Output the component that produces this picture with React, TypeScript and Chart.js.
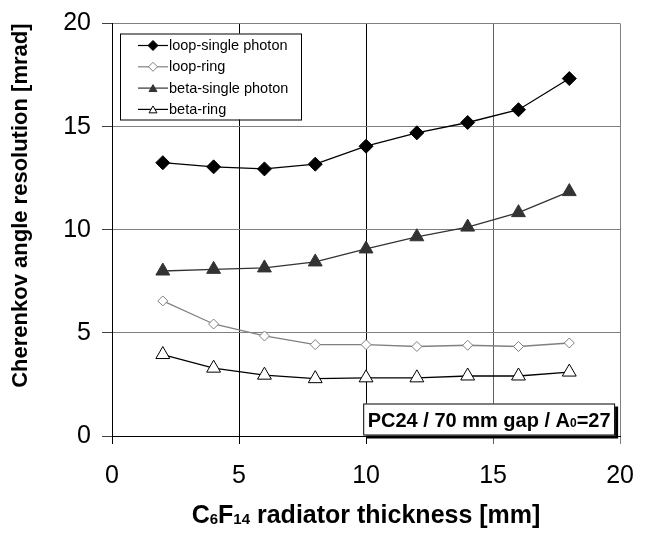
import React, { useEffect, useRef } from "react";
import { Chart, registerables } from "chart.js";

Chart.register(...registerables);

// ---- data ----
const thickness = [2, 4, 6, 8, 10, 12, 14, 16, 18];
const loopSingle = [13.25, 13.05, 12.95, 13.18, 14.05, 14.7, 15.2, 15.82, 17.33];
const loopRing = [6.55, 5.43, 4.85, 4.43, 4.43, 4.34, 4.4, 4.34, 4.51];
const betaSingle = [8.0, 8.08, 8.15, 8.44, 9.07, 9.66, 10.13, 10.83, 11.85];
const betaRing = [3.95, 3.29, 2.95, 2.78, 2.82, 2.82, 2.91, 2.91, 3.1];
const seriesNames = ["loop-single photon", "loop-ring", "beta-single photon", "beta-ring"];
const seriesValues = [loopSingle, loopRing, betaSingle, betaRing];
const axisMin = 0;
const axisMax = 20;
const axisStep = 5;
const yTitle = "Cherenkov angle resolution [mrad]";
const xTitleParts: [string, boolean][] = [
  ["C", false],
  ["6", true],
  ["F", false],
  ["14", true],
  [" radiator thickness [mm]", false],
];
const noteParts: [string, boolean][] = [
  ["PC24 / 70 mm gap / A", false],
  ["0", true],
  ["=27", false],
];

// ---- styles ----
const FONT = "'Liberation Sans', Arial, Helvetica, sans-serif";
const seriesStyles = [
  { line: "#000000", fill: "#000000", stroke: "#000000", shape: "rectRot", r: 7, lr: 5 },
  { line: "#808080", fill: "#ffffff", stroke: "#808080", shape: "rectRot", r: 5, lr: 4.5 },
  { line: "#333333", fill: "#333333", stroke: "#333333", shape: "triangle", r: 8, lr: 4.6 },
  { line: "#000000", fill: "#ffffff", stroke: "#000000", shape: "triangle", r: 8, lr: 4.6 },
];

function drawMarker(ctx: CanvasRenderingContext2D, shape: string, x: number, y: number, r: number, fill: string, stroke: string) {
  ctx.beginPath();
  if (shape === "rectRot") {
    ctx.moveTo(x - r, y);
    ctx.lineTo(x, y - r);
    ctx.lineTo(x + r, y);
    ctx.lineTo(x, y + r);
  } else {
    const cy = y + r / 4;
    ctx.moveTo(x, cy - r);
    ctx.lineTo(x + r * 0.866, cy + r / 2);
    ctx.lineTo(x - r * 0.866, cy + r / 2);
  }
  ctx.closePath();
  ctx.fillStyle = fill;
  ctx.fill();
  ctx.lineWidth = 1;
  ctx.strokeStyle = stroke;
  ctx.stroke();
}

function partsWidth(ctx: CanvasRenderingContext2D, parts: [string, boolean][], big: string, small: string) {
  let w = 0;
  for (const [t, sub] of parts) {
    ctx.font = sub ? small : big;
    w += ctx.measureText(t).width;
  }
  return w;
}

function drawParts(ctx: CanvasRenderingContext2D, parts: [string, boolean][], x: number, y: number, big: string, small: string, subDrop: number) {
  let cx = x;
  for (const [t, sub] of parts) {
    ctx.font = sub ? small : big;
    ctx.fillText(t, cx, sub ? y + subDrop : y);
    cx += ctx.measureText(t).width;
  }
}

const boxLegendPlugin = {
  id: "boxLegend",
  afterDatasetsDraw(chart: any) {
    const { ctx, chartArea } = chart;
    const x0 = chartArea.left + 8;
    const y0 = chartArea.top + 10;
    const w = 181;
    const h = 86;
    ctx.save();
    ctx.fillStyle = "#ffffff";
    ctx.fillRect(x0, y0, w, h);
    ctx.strokeStyle = "#000000";
    ctx.lineWidth = 1;
    ctx.strokeRect(x0 + 0.5, y0 + 0.5, w, h);
    ctx.font = `14.5px ${FONT}`;
    ctx.textBaseline = "middle";
    ctx.textAlign = "left";
    seriesNames.forEach((name, i) => {
      const st = seriesStyles[i];
      const cy = y0 + 12 + i * 21.3;
      ctx.beginPath();
      ctx.moveTo(x0 + 18, cy);
      ctx.lineTo(x0 + 48, cy);
      ctx.strokeStyle = st.line;
      ctx.lineWidth = 1.2;
      ctx.stroke();
      drawMarker(ctx, st.shape, x0 + 33, cy, st.lr, st.fill, st.stroke);
      ctx.fillStyle = "#000000";
      ctx.fillText(name, x0 + 49, cy + 0.5);
    });
    ctx.restore();
  },
};

const notePlugin = {
  id: "noteBox",
  afterDatasetsDraw(chart: any) {
    const { ctx, chartArea } = chart;
    const big = `bold 20px ${FONT}`;
    const small = `bold 12px ${FONT}`;
    ctx.save();
    const tw = partsWidth(ctx, noteParts, big, small);
    const right = chartArea.right - 5;
    const w = tw + 9;
    const left = right - w;
    const top = chartArea.top + 380;
    const h = 32;
    ctx.fillStyle = "#000000";
    ctx.fillRect(left + 3, top + 3, w, h);
    ctx.fillStyle = "#ffffff";
    ctx.fillRect(left, top, w, h);
    ctx.strokeStyle = "#000000";
    ctx.lineWidth = 1;
    ctx.strokeRect(left + 0.5, top + 0.5, w - 1, h - 1);
    ctx.fillStyle = "#000000";
    ctx.textBaseline = "alphabetic";
    ctx.textAlign = "left";
    drawParts(ctx, noteParts, left + 4.5, top + 23, big, small, 0.5);
    ctx.restore();
  },
};

const xTitlePlugin = {
  id: "xTitle",
  afterDraw(chart: any) {
    const { ctx, chartArea } = chart;
    const big = `bold 25px ${FONT}`;
    const small = `bold 15px ${FONT}`;
    ctx.save();
    const tw = partsWidth(ctx, xTitleParts, big, small);
    const cx = (chartArea.left + chartArea.right) / 2;
    ctx.fillStyle = "#000000";
    ctx.textBaseline = "alphabetic";
    ctx.textAlign = "left";
    drawParts(ctx, xTitleParts, cx - tw / 2, 523, big, small, 1);
    ctx.restore();
  },
};

export default function App() {
  const canvasRef = useRef<HTMLCanvasElement | null>(null);

  useEffect(() => {
    const canvas = canvasRef.current;
    if (!canvas) return;
    Chart.defaults.font.family = FONT;
    const xGridColor = (c: any) => {
      const v = c.tick ? c.tick.value : 0;
      if (v === 20) return "#808080";
      if (v === 15) return "#606060";
      return "#000000";
    };
    const chart = new Chart(canvas, {
      type: "line",
      data: {
        datasets: seriesNames.map((name, i) => {
          const st = seriesStyles[i];
          return {
            label: name,
            data: thickness.map((x, j) => ({ x, y: seriesValues[i][j] })),
            borderColor: st.line,
            backgroundColor: st.fill,
            borderWidth: 1.3,
            pointStyle: st.shape,
            pointRadius: st.r,
            pointHoverRadius: st.r,
            pointBackgroundColor: st.fill,
            pointBorderColor: st.stroke,
            pointBorderWidth: 1,
            tension: 0,
            fill: false,
          };
        }),
      },
      options: {
        animation: false,
        responsive: false,
        devicePixelRatio: 1,
        events: [],
        layout: { padding: { top: 13, right: 15, left: 0, bottom: 0 } },
        plugins: {
          legend: { display: false },
          tooltip: { enabled: false },
        },
        scales: {
          x: {
            type: "linear",
            min: axisMin,
            max: axisMax,
            afterFit: (s: any) => {
              s.height = 102;
            },
            ticks: {
              stepSize: axisStep,
              color: "#000000",
              padding: 20,
              font: { size: 25, lineHeight: 1 },
              maxRotation: 0,
            },
            grid: {
              color: xGridColor,
              tickColor: xGridColor,
              tickLength: 8,
              lineWidth: 1,
            },
            border: { color: "#000000", width: 1 },
            title: { display: false },
          },
          y: {
            type: "linear",
            min: axisMin,
            max: axisMax,
            afterFit: (s: any) => {
              s.width = 112;
            },
            ticks: {
              stepSize: axisStep,
              color: "#000000",
              padding: 11,
              font: { size: 25, lineHeight: 1 },
            },
            grid: {
              color: "#808080",
              tickColor: "#404040",
              tickLength: 10,
              lineWidth: 1,
            },
            border: { color: "#000000", width: 1 },
            title: {
              display: true,
              text: yTitle,
              align: "end",
              color: "#000000",
              font: { size: 22, weight: "bold" },
              padding: { top: 8, bottom: 0 },
            },
          },
        },
      },
      plugins: [boxLegendPlugin, notePlugin, xTitlePlugin],
    } as any);
    return () => chart.destroy();
  }, []);

  return (
    <div style={{ position: "absolute", left: 0, top: 0, width: 654, height: 538, background: "#ffffff" }}>
      <canvas ref={canvasRef} width={654} height={538} style={{ display: "block", width: 654, height: 538 }} />
    </div>
  );
}
